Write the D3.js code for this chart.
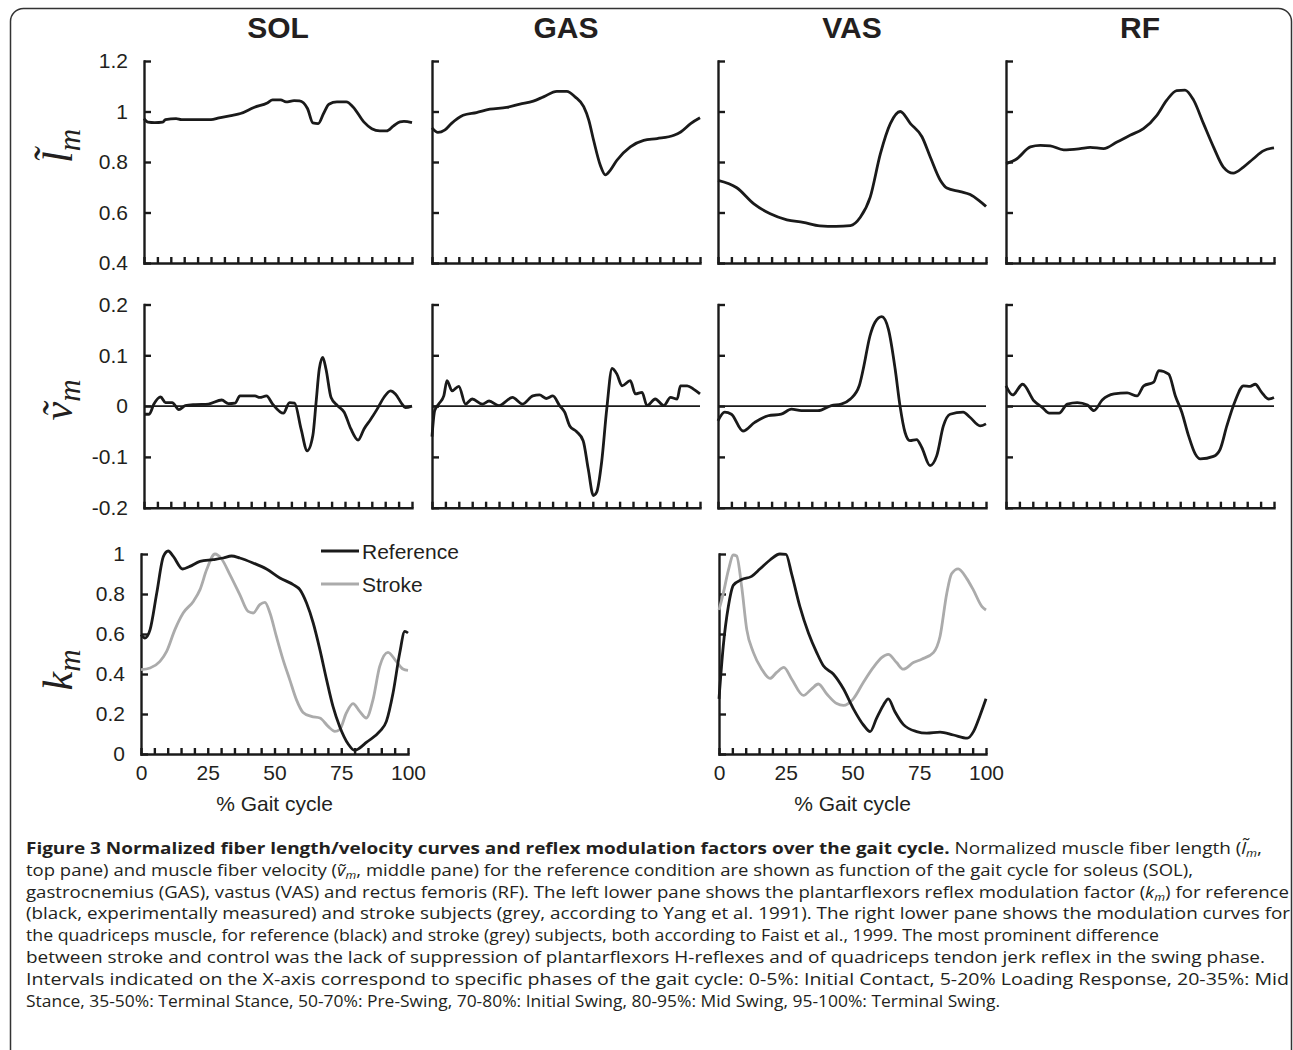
<!DOCTYPE html>
<html lang="en">
<head>
<meta charset="utf-8">
<title>Normalized fiber length/velocity curves and reflex modulation factors</title>
<script src="https://cdn.jsdelivr.net/npm/d3@7"></script>
<style>
  body { margin: 0; background: #fff; }
  .axis path, .axis line { fill: none; stroke: #1a1a1a; stroke-width: 2.4; }
  .axis path { stroke-linecap: square; }
  .axis text { font-family: "Liberation Sans", Arial, sans-serif; font-size: 21px; fill: #231f20; }
  .curve { fill: none; stroke-width: 2.8; stroke-linejoin: round; }
  .title { font-family: "Liberation Sans", Arial, sans-serif; font-weight: bold; font-size: 30px; fill: #231f20; }
  .lbl { font-family: "Liberation Sans", Arial, sans-serif; font-size: 21px; fill: #231f20; }
  .math { font-family: "Liberation Serif", serif; font-style: italic; fill: #231f20; }
  .caption { font-family: "Open Sans", sans-serif; font-size: 16.5px; fill: #231f20; }
</style>
</head>
<body>
<div id="chart"></div>
<script>
// ---- data ----
const muscles = ["SOL", "GAS", "VAS", "RF"];
const lengthTicks = [0.4, 0.6, 0.8, 1, 1.2];
const velocityTicks = [-0.2, -0.1, 0, 0.1, 0.2];
const kmTicks = [0, 0.2, 0.4, 0.6, 0.8, 1];
const gaitTicks = [0, 25, 50, 75, 100];
const minorTicks = [0, 5, 10, 15, 20, 25, 30, 35, 40, 45, 50, 55, 60, 65, 70, 75, 80, 85, 90, 95, 100];

// normalized fiber length, [% gait, value]
const solLength = [[0,0.972],[1.5,0.958],[4,0.956],[7,0.958],[8,0.968],[12,0.972],[14,0.968],[25,0.968],[28,0.975],[33,0.985],[36,0.992],[41,1.016],[46,1.034],[48,1.046],[51,1.046],[53,1.038],[56,1.043],[58,1.042],[61,1.012],[63,0.955],[65,0.952],[67,0.992],[69,1.029],[72,1.038],[75.5,1.038],[78,1.018],[82,0.959],[85,0.932],[88,0.923],[90.5,0.923],[93,0.942],[95.5,0.959],[97,0.961],[100,0.956]];
const gasLength = [[0,0.935],[2.2,0.917],[4.7,0.926],[7.2,0.952],[11.6,0.985],[16.6,0.996],[21.6,1.009],[27.8,1.016],[32.8,1.029],[37.8,1.041],[41.6,1.058],[46.6,1.08],[50.3,1.08],[53.4,1.058],[56.6,1.019],[58.5,0.966],[60.3,0.886],[62.8,0.787],[64.7,0.749],[66.5,0.767],[69,0.807],[74,0.86],[79,0.886],[84,0.893],[90.3,0.906],[92.8,0.919],[96.5,0.952],[100,0.975]];
const vasLength = [[0,0.727],[7,0.698],[13.4,0.634],[19.5,0.595],[25.7,0.571],[31.8,0.561],[38,0.547],[44,0.545],[49.4,0.548],[53.1,0.581],[56.8,0.661],[60.6,0.833],[64.3,0.952],[68,1.0],[71.8,0.952],[76.1,0.9],[79.2,0.82],[83,0.727],[85.4,0.697],[90.4,0.683],[94.1,0.671],[97.3,0.648],[100,0.624]];
const rfLength = [[0,0.793],[4.1,0.813],[9.1,0.86],[12.8,0.866],[16.5,0.864],[21.5,0.848],[27.7,0.853],[31.4,0.858],[36.4,0.853],[41.4,0.879],[46.3,0.906],[51.3,0.932],[56.3,0.985],[60,1.045],[63.7,1.083],[66.8,1.085],[70,1.045],[73.7,0.952],[77.4,0.86],[81.1,0.78],[84.8,0.756],[88.6,0.78],[92.3,0.813],[96,0.844],[100,0.856]];

// normalized fiber velocity, [% gait, value]
const solVelocity = [[0,-0.016],[1.9,-0.016],[3.7,0.004],[6.2,0.018],[8,0.007],[10.5,0.007],[13,-0.007],[15.4,0.001],[19.1,0.003],[24,0.004],[29,0.012],[31.5,0.005],[34,0.006],[35.8,0.02],[41.4,0.02],[43.2,0.017],[45.7,0.02],[48,0.004],[52,-0.014],[54.3,0.007],[56.2,0.006],[58.6,-0.045],[60.9,-0.088],[63,-0.058],[64.2,0.007],[65.4,0.073],[66.7,0.096],[67.9,0.073],[69.8,0.017],[72.2,0.001],[74.7,-0.012],[77.2,-0.045],[79.9,-0.067],[82.1,-0.045],[84.6,-0.026],[87,-0.006],[89.5,0.017],[92,0.03],[93.8,0.024],[96.3,0.004],[97.5,-0.003],[100,0]];
const gasVelocity = [[0,-0.06],[1,-0.009],[2.5,0.004],[4.4,0.02],[5.6,0.05],[7.5,0.03],[10,0.039],[12.5,0.004],[15,0.014],[18.8,0.004],[21.3,0.01],[25,0.001],[30,0.017],[33.8,0.004],[37.6,0.02],[40.1,0.022],[42.6,0.015],[45.1,0.02],[47.6,0.001],[49.5,-0.012],[51.4,-0.039],[53.9,-0.05],[56.4,-0.068],[58.3,-0.124],[60.2,-0.176],[61.4,-0.17],[63.3,-0.11],[65.2,-0.006],[67.2,0.074],[69,0.063],[70.9,0.04],[74,0.05],[75.9,0.024],[78.4,0.027],[80.2,0.001],[83.3,0.014],[86.5,0.001],[89,0.017],[91.5,0.014],[92.7,0.04],[95.2,0.04],[97.7,0.033],[100,0.024]];
const vasVelocity = [[0,-0.029],[2.5,-0.012],[5,-0.016],[9.3,-0.049],[13.7,-0.032],[18.7,-0.019],[23.6,-0.016],[27.4,-0.006],[31.1,-0.009],[37.3,-0.009],[42.3,0.001],[46,0.004],[49.4,0.014],[52.7,0.04],[54.2,0.073],[56.7,0.138],[58.6,0.165],[61.1,0.176],[63.6,0.151],[66.1,0.073],[67.9,0.001],[69.8,-0.052],[71.6,-0.068],[74.1,-0.066],[76,-0.081],[79.1,-0.117],[81.6,-0.098],[84.1,-0.039],[86.6,-0.016],[91.5,-0.012],[94,-0.022],[97.8,-0.039],[100,-0.035]];
const rfVelocity = [[0,0.04],[2.5,0.022],[6.2,0.043],[10.5,0.01],[13.6,-0.003],[16.1,-0.014],[19.8,-0.014],[22.9,0.004],[26.6,0.007],[30.4,0.002],[32.8,-0.009],[35.9,0.012],[40.3,0.024],[45.2,0.026],[48.9,0.02],[51.4,0.04],[55.1,0.047],[57,0.07],[60.7,0.063],[63.2,0.02],[65.6,-0.012],[68.1,-0.058],[70.6,-0.094],[72.5,-0.104],[77.4,-0.099],[79.9,-0.085],[82.4,-0.039],[85.5,0.01],[88.6,0.04],[91.1,0.039],[93,0.043],[95.4,0.027],[97.9,0.014],[100,0.017]];

// reflex modulation factor km, [% gait, value]
const plantarReference = [[0,0.597],[1.5,0.58],[3.4,0.622],[5.9,0.805],[8.4,0.988],[10.2,1.015],[12.1,0.988],[15.6,0.925],[18.3,0.938],[22.1,0.963],[27.1,0.972],[30.8,0.98],[33.9,0.99],[37,0.98],[42,0.955],[47,0.925],[52,0.88],[57,0.847],[59.5,0.822],[62,0.755],[64.5,0.655],[67,0.522],[69.5,0.372],[71.9,0.238],[74.4,0.138],[77.6,0.05],[80,0.018],[81.9,0.03],[84.4,0.058],[89.4,0.113],[91.9,0.163],[94.4,0.305],[96.9,0.505],[98.8,0.613],[100,0.605]];
const plantarStroke = [[0,0.422],[3.4,0.43],[7.1,0.463],[9.6,0.513],[12.7,0.622],[15.8,0.705],[19.6,0.763],[22.1,0.822],[24.6,0.922],[27.7,1.0],[30.2,0.975],[33.3,0.897],[37,0.797],[40.1,0.713],[42,0.705],[44.5,0.747],[46.4,0.758],[48.3,0.705],[50.7,0.588],[53.2,0.472],[55.7,0.372],[58.2,0.272],[60.7,0.208],[63.8,0.188],[67,0.18],[70.1,0.138],[72.6,0.113],[74.4,0.122],[76.9,0.205],[79.4,0.252],[81.9,0.213],[84.4,0.18],[86.9,0.272],[89.4,0.438],[92.5,0.508],[95.6,0.463],[98.1,0.425],[100,0.418]];
const quadReference = [[0,0.276],[1.6,0.54],[3.5,0.737],[5.4,0.844],[8.5,0.872],[12.2,0.888],[15.4,0.926],[19.1,0.97],[22.8,1.0],[25.1,0.998],[27.2,0.901],[30.3,0.737],[33.5,0.605],[36.6,0.507],[39.1,0.441],[42.8,0.4],[46.6,0.326],[50.3,0.227],[54.1,0.145],[56.6,0.112],[59,0.178],[61.5,0.243],[63.4,0.276],[65.9,0.211],[69,0.148],[74,0.112],[77.8,0.104],[82.8,0.109],[87.8,0.095],[93,0.079],[95.3,0.112],[97.8,0.194],[100,0.276]];
const quadStroke = [[0,0.72],[1.6,0.803],[3.5,0.918],[5.4,0.995],[6.6,0.99],[8.5,0.836],[10.4,0.622],[12.9,0.507],[16,0.424],[19.1,0.378],[21.6,0.408],[24.3,0.433],[27.2,0.375],[31.6,0.293],[34.7,0.326],[37.2,0.35],[40.3,0.301],[44.1,0.252],[46.6,0.243],[50.3,0.276],[54.1,0.359],[57.8,0.433],[60.9,0.482],[63.4,0.498],[66.5,0.457],[69,0.424],[72.8,0.457],[75.9,0.474],[80.3,0.507],[82.8,0.589],[85.3,0.803],[87.1,0.901],[89.6,0.926],[92.8,0.877],[95.3,0.819],[98.5,0.737],[100,0.72]];

const lengthSeries = [solLength, gasLength, vasLength, rfLength];
const velocitySeries = [solVelocity, gasVelocity, vasVelocity, rfVelocity];

const captionLines = [
  [["b", "Figure 3 Normalized fiber length/velocity curves and reflex modulation factors over the gait cycle."], ["n", " Normalized muscle fiber length ("], ["i", "l\u0303"], ["s", "m"], ["n", ","]],
  [["n", "top pane) and muscle fiber velocity ("], ["i", "\u1e7d"], ["s", "m"], ["n", ", middle pane) for the reference condition are shown as function of the gait cycle for soleus (SOL),"]],
  [["n", "gastrocnemius (GAS), vastus (VAS) and rectus femoris (RF). The left lower pane shows the plantarflexors reflex modulation factor ("], ["i", "k"], ["s", "m"], ["n", ") for reference"]],
  [["n", "(black, experimentally measured) and stroke subjects (grey, according to Yang et al. 1991). The right lower pane shows the modulation curves for"]],
  [["n", "the quadriceps muscle, for reference (black) and stroke (grey) subjects, both according to Faist et al., 1999. The most prominent difference"]],
  [["n", "between stroke and control was the lack of suppression of plantarflexors H-reflexes and of quadriceps tendon jerk reflex in the swing phase."]],
  [["n", "Intervals indicated on the X-axis correspond to specific phases of the gait cycle: 0-5%: Initial Contact, 5-20% Loading Response, 20-35%: Mid"]],
  [["n", "Stance, 35-50%: Terminal Stance, 50-70%: Pre-Swing, 70-80%: Initial Swing, 80-95%: Mid Swing, 95-100%: Terminal Swing."]]
];
const captionEnds = [1262, 1193, 1289, 1290, 1159, 1265, 1289, 1000];

// ---- layout ----
const W = 1293, H = 1050;
const colLeft = [144, 432, 718, 1006], colWidth = 268;
const rowLength = [61, 263], rowVelocity = [304.5, 507.7], rowKm = [554, 754];
const kmPanels = [[141, 408], [719, 986]];
const black = "#1a1a1a", grey = "#ababab";

const svg = d3.select("#chart").append("svg")
  .attr("width", W).attr("height", H);

// frame round the figure
svg.append("rect")
  .attr("x", 10.5).attr("y", 8.5)
  .attr("width", 1281).attr("height", 1100)
  .attr("rx", 13)
  .attr("fill", "none").attr("stroke", "#333").attr("stroke-width", 1.5);

function panel(left, right, top, bottom, domain, ticks, yLabels, xLabels) {
  const x = d3.scaleLinear().domain([0, 100]).range([left, right]);
  const y = d3.scaleLinear().domain(domain).range([bottom, top]);

  svg.append("g").attr("class", "axis")
    .attr("transform", "translate(0," + bottom + ")")
    .call(d3.axisBottom(x).tickValues(minorTicks).tickSizeInner(-6).tickSizeOuter(0).tickFormat(() => ""));

  if (xLabels) {
    const lab = svg.append("g").attr("class", "axis")
      .attr("transform", "translate(0," + bottom + ")")
      .call(d3.axisBottom(x).tickValues(gaitTicks).tickSize(0).tickPadding(11).tickFormat(d => String(d)));
    lab.select(".domain").remove();
    svg.append("text").attr("class", "lbl")
      .attr("x", (left + right) / 2).attr("y", bottom + 57)
      .attr("text-anchor", "middle")
      .text("% Gait cycle");
  }

  svg.append("g").attr("class", "axis")
    .attr("transform", "translate(" + left + ",0)")
    .call(d3.axisLeft(y).tickValues(ticks).tickSizeInner(-7).tickSizeOuter(0).tickPadding(16)
      .tickFormat(d => yLabels ? String(d) : ""));

  return { x: x, y: y };
}

function drawCurve(p, data, color) {
  const line = d3.line()
    .x(d => p.x(d[0]))
    .y(d => p.y(d[1]))
    .curve(d3.curveMonotoneX);
  svg.append("path")
    .datum(data)
    .attr("class", "curve")
    .attr("stroke", color)
    .attr("d", line);
}

// top row: fiber length
muscles.forEach((m, i) => {
  const left = colLeft[i], right = colLeft[i] + colWidth;
  svg.append("text").attr("class", "title")
    .attr("x", (left + right) / 2).attr("y", 38)
    .attr("text-anchor", "middle")
    .text(m);
  const p = panel(left, right, rowLength[0], rowLength[1], [0.4, 1.2], lengthTicks, i === 0, false);
  drawCurve(p, lengthSeries[i], black);
});

// middle row: fiber velocity
muscles.forEach((m, i) => {
  const left = colLeft[i], right = colLeft[i] + colWidth;
  const p = panel(left, right, rowVelocity[0], rowVelocity[1], [-0.2, 0.2], velocityTicks, i === 0, false);
  svg.append("line")
    .attr("x1", p.x(0)).attr("x2", p.x(100))
    .attr("y1", p.y(0)).attr("y2", p.y(0))
    .attr("stroke", black).attr("stroke-width", 1.7);
  drawCurve(p, velocitySeries[i], black);
});

// bottom row: reflex modulation
const pPlantar = panel(kmPanels[0][0], kmPanels[0][1], rowKm[0], rowKm[1], [0, 1], kmTicks, true, true);
drawCurve(pPlantar, plantarStroke, grey);
drawCurve(pPlantar, plantarReference, black);

const pQuad = panel(kmPanels[1][0], kmPanels[1][1], rowKm[0], rowKm[1], [0, 1], kmTicks, false, true);
drawCurve(pQuad, quadStroke, grey);
drawCurve(pQuad, quadReference, black);

// legend
const legend = [["Reference", black], ["Stroke", grey]];
legend.forEach((d, i) => {
  const ly = 551 + i * 33;
  svg.append("line")
    .attr("x1", 321).attr("x2", 359).attr("y1", ly).attr("y2", ly)
    .attr("stroke", d[1]).attr("stroke-width", 2.8);
  svg.append("text").attr("class", "lbl")
    .attr("x", 362).attr("y", ly + 7.5)
    .text(d[0]);
});

// y labels (math italic, rotated)
function mathLabel(cx, cy, main) {
  const t = svg.append("text").attr("class", "math")
    .attr("transform", "translate(" + cx + "," + cy + ") rotate(-90)")
    .attr("text-anchor", "middle");
  t.append("tspan").attr("font-size", 42).text(main);
  t.append("tspan").attr("font-size", 31).attr("dy", 8).text("m");
}
mathLabel(72, 146, "l\u0303");
mathLabel(72, 400, "\u1e7d");
mathLabel(72, 670, "k");

// caption
captionLines.forEach((segs, i) => {
  const t = svg.append("text").attr("class", "caption")
    .attr("x", 26).attr("y", 854 + i * 21.8)
    .attr("textLength", captionEnds[i] - 26)
    .attr("lengthAdjust", "spacingAndGlyphs");
  let shifted = false;
  segs.forEach(s => {
    const sp = t.append("tspan").text(s[1]);
    if (s[0] === "b") sp.attr("font-weight", "bold");
    if (s[0] === "i") sp.attr("font-style", "italic");
    if (s[0] === "s") {
      sp.attr("font-style", "italic").attr("font-size", 11).attr("dy", 3);
      shifted = true;
    } else if (shifted) {
      sp.attr("dy", -3);
      shifted = false;
    }
  });
});
</script>
</body>
</html>
